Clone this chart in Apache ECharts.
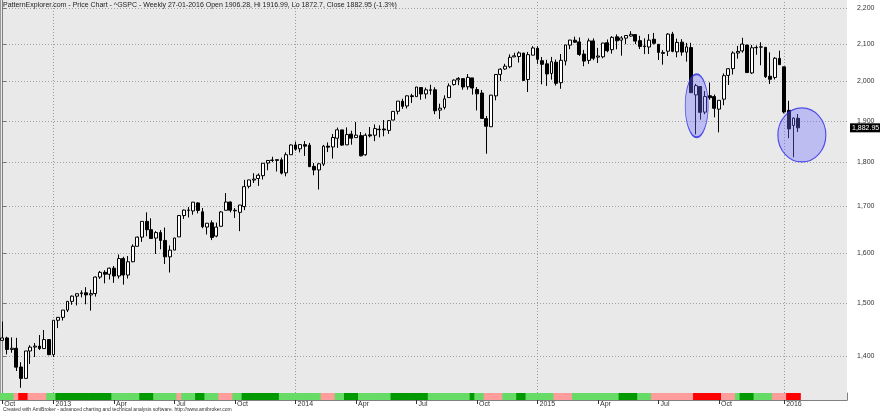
<!DOCTYPE html>
<html>
<head>
<meta charset="utf-8">
<script src="https://cdn.jsdelivr.net/npm/echarts@6/dist/echarts.min.js"></script>
<style>
html,body{margin:0;padding:0;background:#fff;}
#c{width:880px;height:415px;}
</style>
</head>
<body>
<div id="c"></div>
<script>
// ---- Weekly categories (week starting Monday) ----
const weeks = [
'2012-10-15','2012-10-22','2012-10-29','2012-11-05','2012-11-12','2012-11-19','2012-11-26','2012-12-03','2012-12-10','2012-12-17','2012-12-24','2012-12-31',
'2013-01-07','2013-01-14','2013-01-21','2013-01-28','2013-02-04','2013-02-11','2013-02-18','2013-02-25','2013-03-04','2013-03-11','2013-03-18','2013-03-25',
'2013-04-01','2013-04-08','2013-04-15','2013-04-22','2013-04-29','2013-05-06','2013-05-13','2013-05-20','2013-05-27','2013-06-03','2013-06-10','2013-06-17',
'2013-06-24','2013-07-01','2013-07-08','2013-07-15','2013-07-22','2013-07-29','2013-08-05','2013-08-12','2013-08-19','2013-08-26','2013-09-02','2013-09-09',
'2013-09-16','2013-09-23','2013-09-30','2013-10-07','2013-10-14','2013-10-21','2013-10-28','2013-11-04','2013-11-11','2013-11-18','2013-11-25','2013-12-02',
'2013-12-09','2013-12-16','2013-12-23','2013-12-30',
'2014-01-06','2014-01-13','2014-01-20','2014-01-27','2014-02-03','2014-02-10','2014-02-17','2014-02-24','2014-03-03','2014-03-10','2014-03-17','2014-03-24','2014-03-31',
'2014-04-07','2014-04-14','2014-04-21','2014-04-28','2014-05-05','2014-05-12','2014-05-19','2014-05-26','2014-06-02','2014-06-09','2014-06-16','2014-06-23','2014-06-30',
'2014-07-07','2014-07-14','2014-07-21','2014-07-28','2014-08-04','2014-08-11','2014-08-18','2014-08-25','2014-09-01','2014-09-08','2014-09-15','2014-09-22','2014-09-29',
'2014-10-06','2014-10-13','2014-10-20','2014-10-27','2014-11-03','2014-11-10','2014-11-17','2014-11-24','2014-12-01','2014-12-08','2014-12-15','2014-12-22','2014-12-29',
'2015-01-05','2015-01-12','2015-01-19','2015-01-26','2015-02-02','2015-02-09','2015-02-16','2015-02-23','2015-03-02','2015-03-09','2015-03-16','2015-03-23','2015-03-30',
'2015-04-06','2015-04-13','2015-04-20','2015-04-27','2015-05-04','2015-05-11','2015-05-18','2015-05-25','2015-06-01','2015-06-08','2015-06-15','2015-06-22','2015-06-29',
'2015-07-06','2015-07-13','2015-07-20','2015-07-27','2015-08-03','2015-08-10','2015-08-17','2015-08-24','2015-08-31','2015-09-07','2015-09-14','2015-09-21','2015-09-28',
'2015-10-05','2015-10-12','2015-10-19','2015-10-26','2015-11-02','2015-11-09','2015-11-16','2015-11-23','2015-11-30','2015-12-07','2015-12-14','2015-12-21','2015-12-28',
'2016-01-04','2016-01-11','2016-01-18','2016-01-25',
// empty future slots on the right of the chart
'2016-02-01','2016-02-08','2016-02-15','2016-02-22','2016-02-29','2016-03-07','2016-03-14','2016-03-21','2016-03-28','2016-04-04'
];

const open = [
1428.75,1433.21,1411.94,1414.02,1380.13,1359.88,1409.15,1416.34,1418.07,1413.54,1430.15,1402.43,
1466.47,1472.05,1485.98,1502.96,1513.17,1517.93,1519.79,1515.60,1518.20,1551.15,1560.70,1556.89,
1569.18,1553.26,1588.84,1555.25,1582.34,1614.40,1633.70,1667.47,1649.60,1631.71,1643.38,1626.73,
1592.43,1606.44,1634.20,1680.19,1692.09,1690.32,1708.01,1688.37,1655.25,1664.29,1635.95,1656.85,
1691.70,1709.91,1691.75,1687.15,1699.86,1745.20,1759.42,1762.97,1769.51,1798.82,1804.82,1806.55,
1806.21,1776.01,1818.32,1841.47,
1832.31,1842.29,1841.05,1791.03,1782.68,1796.20,1838.63,1836.78,1857.68,1877.86,1841.76,1867.67,1859.16,
1863.92,1818.18,1865.79,1865.00,1879.45,1880.03,1876.66,1902.01,1923.87,1948.97,1937.15,1962.92,1960.79,
1984.22,1967.68,1976.93,1978.25,1926.69,1933.43,1958.36,1991.74,2004.07,2007.17,1986.04,2009.08,1978.96,
1970.01,1905.65,1885.62,1962.75,2018.21,2032.36,2038.29,2064.69,2065.78,2074.84,2005.03,2069.28,2087.63,
2054.44,2046.13,2020.76,2050.42,1996.67,2053.47,2096.47,2109.83,2105.23,2072.25,2055.35,2107.99,2064.11,
2064.87,2102.94,2084.11,2119.29,2110.23,2115.56,2121.30,2125.34,2108.64,2092.34,2091.34,2112.50,2098.63,
2073.95,2080.04,2126.80,2078.19,2104.49,2077.42,2089.70,1965.15,1986.73,1921.75,1963.06,1960.84,1929.18,
1954.33,2015.65,2033.47,2075.08,2080.76,2096.56,2022.08,2089.41,2090.95,2090.42,2013.37,2010.27,2060.59,
2038.20,1926.12,1888.66,1906.28
];
const high = [
1464.02,1435.46,1434.27,1433.38,1388.81,1409.16,1419.70,1423.73,1438.59,1448.00,1430.15,1466.47,
1472.75,1485.98,1503.26,1514.41,1518.31,1524.69,1530.94,1525.84,1552.48,1563.62,1564.91,1570.28,
1573.66,1597.35,1592.64,1594.04,1618.46,1635.01,1667.47,1687.18,1674.21,1646.53,1648.69,1654.19,
1615.94,1632.07,1680.19,1693.12,1698.78,1709.67,1709.24,1696.81,1663.60,1669.51,1664.83,1689.97,
1729.86,1711.44,1696.55,1703.44,1759.82,1759.82,1775.22,1774.54,1798.22,1804.84,1813.55,1806.55,
1811.52,1823.75,1842.84,1849.44,
1843.23,1850.84,1846.50,1798.77,1798.03,1841.65,1847.50,1867.92,1883.57,1877.86,1883.97,1875.92,1897.28,
1872.53,1869.63,1884.89,1891.33,1889.07,1902.17,1901.26,1924.03,1949.44,1955.55,1963.91,1968.17,1985.59,
1984.22,1983.94,1991.39,1984.85,1942.92,1964.04,1994.76,2005.04,2011.17,2007.17,2019.26,2009.08,1985.17,
1977.84,1912.09,1965.27,2018.19,2034.26,2046.18,2071.46,2075.76,2079.47,2075.78,2077.85,2093.55,2093.55,
2064.43,2056.93,2064.62,2057.62,2072.40,2097.03,2110.61,2119.59,2117.52,2083.49,2114.86,2114.86,2088.97,
2102.61,2111.91,2120.92,2125.92,2120.95,2124.09,2134.72,2126.22,2121.92,2115.02,2126.65,2129.87,2098.63,
2083.00,2129.20,2132.82,2114.24,2112.66,2102.54,2102.87,1993.48,1986.73,1975.01,1997.26,1966.00,1951.36,
2020.86,2034.90,2079.74,2094.32,2116.48,2097.50,2097.00,2095.60,2104.27,2090.42,2076.72,2064.00,2081.56,
2038.20,1950.33,1908.85,1916.99
];
const low = [
1427.79,1402.93,1405.95,1373.03,1343.35,1359.88,1385.43,1398.23,1411.02,1413.54,1401.58,1398.04,
1451.64,1465.97,1482.34,1496.33,1495.02,1510.67,1497.29,1485.01,1512.29,1547.36,1538.57,1546.22,
1539.50,1548.19,1536.03,1548.19,1581.28,1614.40,1623.71,1635.53,1630.74,1598.23,1608.07,1577.70,
1560.33,1606.44,1634.20,1672.84,1676.03,1681.86,1684.91,1652.61,1639.43,1627.47,1633.41,1656.85,
1691.70,1687.11,1674.99,1646.47,1692.13,1740.50,1752.70,1746.20,1760.64,1782.00,1800.83,1779.09,
1772.28,1767.99,1818.32,1827.74,
1823.73,1815.52,1790.29,1770.45,1737.92,1791.83,1824.58,1809.22,1834.44,1839.57,1841.76,1842.11,1859.16,
1814.36,1815.80,1859.70,1850.61,1859.79,1862.36,1868.14,1902.01,1915.98,1929.92,1930.91,1944.69,1960.79,
1952.86,1955.59,1965.77,1916.62,1904.78,1928.29,1958.36,1989.36,1990.10,1978.48,1978.48,1965.99,1926.03,
1906.05,1820.66,1885.62,1951.37,2001.01,2030.17,2034.46,2064.69,2049.57,2002.33,1972.56,2069.28,2046.04,
1992.44,1988.12,2004.49,1989.18,1980.90,2041.88,2085.44,2103.00,2067.27,2039.69,2046.04,2055.79,2048.38,
2061.03,2077.03,2073.51,2085.14,2067.93,2099.18,2119.39,2099.18,2085.67,2072.14,2072.49,2098.08,2056.32,
2044.02,2067.00,2077.07,2063.52,2067.91,2052.09,1970.89,1867.01,1903.07,1916.52,1953.00,1908.77,1871.91,
1939.00,1990.73,2018.00,2059.80,2076.00,2022.02,2019.40,2070.30,2042.35,2008.80,1993.26,2005.00,2043.62,
1918.46,1857.83,1812.29,1872.70
];
const close = [
1433.19,1411.94,1414.20,1379.85,1359.88,1409.15,1416.18,1418.07,1413.58,1430.15,1402.43,1466.47,
1472.05,1485.98,1502.96,1513.17,1517.93,1519.79,1515.60,1518.20,1551.18,1560.70,1556.89,1569.19,
1553.28,1588.85,1555.25,1582.24,1614.42,1633.70,1667.47,1649.60,1630.74,1643.38,1626.73,1592.43,
1606.28,1631.89,1680.19,1692.09,1691.65,1709.67,1691.42,1655.83,1663.50,1632.97,1655.17,1687.99,
1709.91,1691.75,1690.50,1703.20,1744.50,1759.77,1761.64,1770.61,1798.18,1804.76,1805.81,1805.09,
1775.32,1818.32,1841.40,1831.37,
1842.37,1838.70,1790.29,1782.59,1797.02,1838.63,1836.25,1859.45,1878.04,1841.13,1866.52,1857.62,1865.09,
1815.69,1864.85,1863.40,1881.14,1878.48,1877.86,1900.53,1923.57,1949.44,1936.16,1962.87,1960.96,1985.44,
1967.57,1978.22,1978.34,1925.15,1931.59,1955.06,1988.40,2003.37,2007.71,1985.54,2010.40,1982.85,1967.90,
1906.13,1886.76,1964.58,2018.05,2031.92,2039.82,2063.50,2067.56,2075.37,2002.33,2070.65,2088.77,2058.20,
2044.81,2019.42,2051.82,1994.99,2055.47,2096.99,2110.30,2104.50,2071.26,2053.40,2108.10,2061.02,2066.96,
2102.06,2081.18,2117.69,2108.29,2116.10,2122.73,2126.06,2107.39,2092.83,2094.11,2109.99,2101.49,2076.78,
2076.62,2126.64,2079.65,2103.84,2077.57,2091.54,1970.89,1988.87,1921.22,1961.05,1958.08,1931.34,1951.36,
2014.89,2033.11,2075.15,2079.36,2099.20,2023.04,2089.17,2090.11,2091.69,2012.37,2005.55,2060.99,2043.94,
1922.03,1880.33,1906.90,1882.95
];

// Bottom trend strip, one code per week: G light green, D dark green, P light red, R red
const trendState = ('GGG P RR PPPP GG DDDDDDDDDDDD GGGGGG DDD GGGGG P GGG DD GGG PPP GG DDDDDDDD ' +
  'GGGGGGGGG PPP GG DDD GGGGGGG DDDDDDDD GGGGGGGGG D GG PPPP GGG DD GGGGGG PPPP GGGGGGGGGG ' +
  'DDDD GGG PPPPPPPPP RRRRRR PPP G DDD GGGG PPP RRR').replace(/ /g, '').split('');

// Axis tick labels
const tickDates = ['2012-10-15','2012-12-31','2013-04-01','2013-07-01','2013-09-30','2013-12-30','2014-03-31',
  '2014-06-30','2014-09-29','2014-12-29','2015-03-30','2015-06-29','2015-09-28','2016-01-04'];
const tickText = ['Oct','2013','Apr','Jul','Oct','2014','Apr','Jul','Oct','2015','Apr','Jul','Oct','2016'];
const yearLineDates = ['2012-12-31','2013-12-30','2014-12-29','2016-01-04'];
const yTicks = [1400,1500,1600,1700,1800,1900,2000,2100,2200];

// Annotation ellipses (week index, price)
const ellipseWeek = [149.2, 171.8];
const ellipsePrice = [1937.6, 1865.5];

const titleText = 'PatternExplorer.com - Price Chart - ^GSPC - Weekly 27-01-2016 Open 1906.28, Hi 1916.99, Lo 1872.7, Close 1882.95 (-1.3%)';
const footerText = 'Created with AmiBroker - advanced charting and technical analysis software. http://www.amibroker.com';

// ---- build ----
const FONT = '"Liberation Sans", Arial, sans-serif';
const fmt = v => {
  const parts = String(v).split('.');
  parts[0] = parts[0].replace(/\B(?=(\d{3})+(?!\d))/g, ',');
  return parts.join('.');
};
const tickMap = {};
tickDates.forEach((d, i) => { tickMap[d] = tickText[i]; });
const stateColor = { G: '#66db66', D: '#009a00', P: '#ff9c9c', R: '#ff0000' };
const ohlc = open.map((o, i) => [o, close[i], low[i], high[i]]);
const stripData = trendState.map(s => ({ value: 1, itemStyle: { color: stateColor[s] } }));
const lastClose = close[close.length - 1];
const ellipseSizes = [[23, 63], [48, 54]];
const ellipseData = ellipseWeek.map((w, i) => ({ value: [w, ellipsePrice[i]], symbolSize: ellipseSizes[i] }));

const chart = echarts.init(document.getElementById('c'), null, { renderer: 'canvas' });
const showTick = (i, v) => tickMap[v] !== undefined;

chart.setOption({
  animation: false,
  backgroundColor: '#ffffff',
  textStyle: { fontFamily: FONT },
  title: [
    { text: titleText, left: 3, top: 2, padding: 0, z: 10,
      textStyle: { fontSize: 7, fontWeight: 'normal', color: '#222', fontFamily: FONT } },
    { text: footerText, left: 3, top: 407, padding: 0,
      textStyle: { fontSize: 5, fontWeight: 'normal', color: '#333', fontFamily: FONT } }
  ],
  grid: [
    { left: 0, right: 33, top: 0, height: 393, show: true, backgroundColor: '#e9e9e9', borderWidth: 0, outerBoundsMode: 'none', containLabel: false },
    { left: 0, right: 33, top: 393, height: 7, show: true, backgroundColor: '#e9e9e9', borderWidth: 0, outerBoundsMode: 'none', containLabel: false }
  ],
  xAxis: [
    { type: 'category', gridIndex: 0, data: weeks, boundaryGap: true, show: false },
    { type: 'category', gridIndex: 1, data: weeks, boundaryGap: true,
      axisLine: { show: true, lineStyle: { color: '#808080', width: 1 } },
      axisTick: { show: true, alignWithLabel: true, interval: showTick, length: 4, lineStyle: { color: '#333' } },
      axisLabel: { interval: showTick, formatter: v => tickMap[v] || '', align: 'left', margin: 1,
        padding: [0, 0, 0, 2], fontSize: 7, color: '#333', fontFamily: FONT, hideOverlap: false },
      splitLine: { show: false } },
    { type: 'value', gridIndex: 0, min: -0.5, max: weeks.length - 0.5, show: false }
  ],
  yAxis: [
    { type: 'log', logBase: 10, gridIndex: 0, position: 'right', min: 1334.3, max: 2223, scale: true,
      axisLine: { show: true, lineStyle: { color: '#808080' } },
      axisTick: { show: true, customValues: yTicks, length: 4, lineStyle: { color: '#777' } },
      axisLabel: { customValues: yTicks, formatter: v => fmt(Math.round(v)), fontSize: 7, color: '#333', margin: 10, fontFamily: FONT },
      splitLine: { show: true, lineStyle: { color: '#a2a2a2', width: 1, type: [1, 2] } } },
    { type: 'value', gridIndex: 1, min: 0, max: 1, position: 'right',
      axisLine: { show: true, lineStyle: { color: '#808080' } },
      axisTick: { show: false }, axisLabel: { show: false }, splitLine: { show: false } },
    { type: 'value', gridIndex: 0, min: 0, max: 1, position: 'left',
      axisLine: { show: true, lineStyle: { color: '#999' } },
      axisTick: { show: false }, axisLabel: { show: false }, splitLine: { show: false } }
  ],
  series: [
    // year separators, drawn beneath the candles
    { type: 'scatter', xAxisIndex: 0, yAxisIndex: 0, data: [], z: 1, silent: true,
      markLine: { symbol: 'none', silent: true, animation: false, z: 1,
        data: yearLineDates.map(d => ({ xAxis: d })),
        lineStyle: { color: '#9a9a9a', width: 1, type: [1, 2] }, label: { show: false } } },
    { type: 'candlestick', xAxisIndex: 0, yAxisIndex: 0, data: ohlc, barWidth: '72%', z: 3,
      itemStyle: { color: '#ffffff', color0: '#000000', borderColor: '#000000', borderColor0: '#000000', borderWidth: 1 },
      markLine: { symbol: 'none', silent: true, animation: false, z: 6,
        data: [{ yAxis: lastClose }],
        lineStyle: { color: 'rgba(0,0,0,0)', width: 0 },
        label: { show: true, position: 'end', formatter: fmt(lastClose.toFixed(2)), backgroundColor: '#000',
          color: '#fff', fontSize: 7, padding: [1, 2, 1, 2], distance: 3, fontFamily: FONT } } },
    { type: 'bar', xAxisIndex: 1, yAxisIndex: 1, data: stripData, barWidth: 5.4, barCategoryGap: '0%', silent: true },
    { type: 'scatter', xAxisIndex: 2, yAxisIndex: 0, data: ellipseData, symbol: 'circle', silent: true, z: 5,
      itemStyle: { color: 'rgba(110,110,255,0.45)', borderColor: '#2a2ae8', borderWidth: 1.2 } }
  ]
});
</script>
</body>
</html>
